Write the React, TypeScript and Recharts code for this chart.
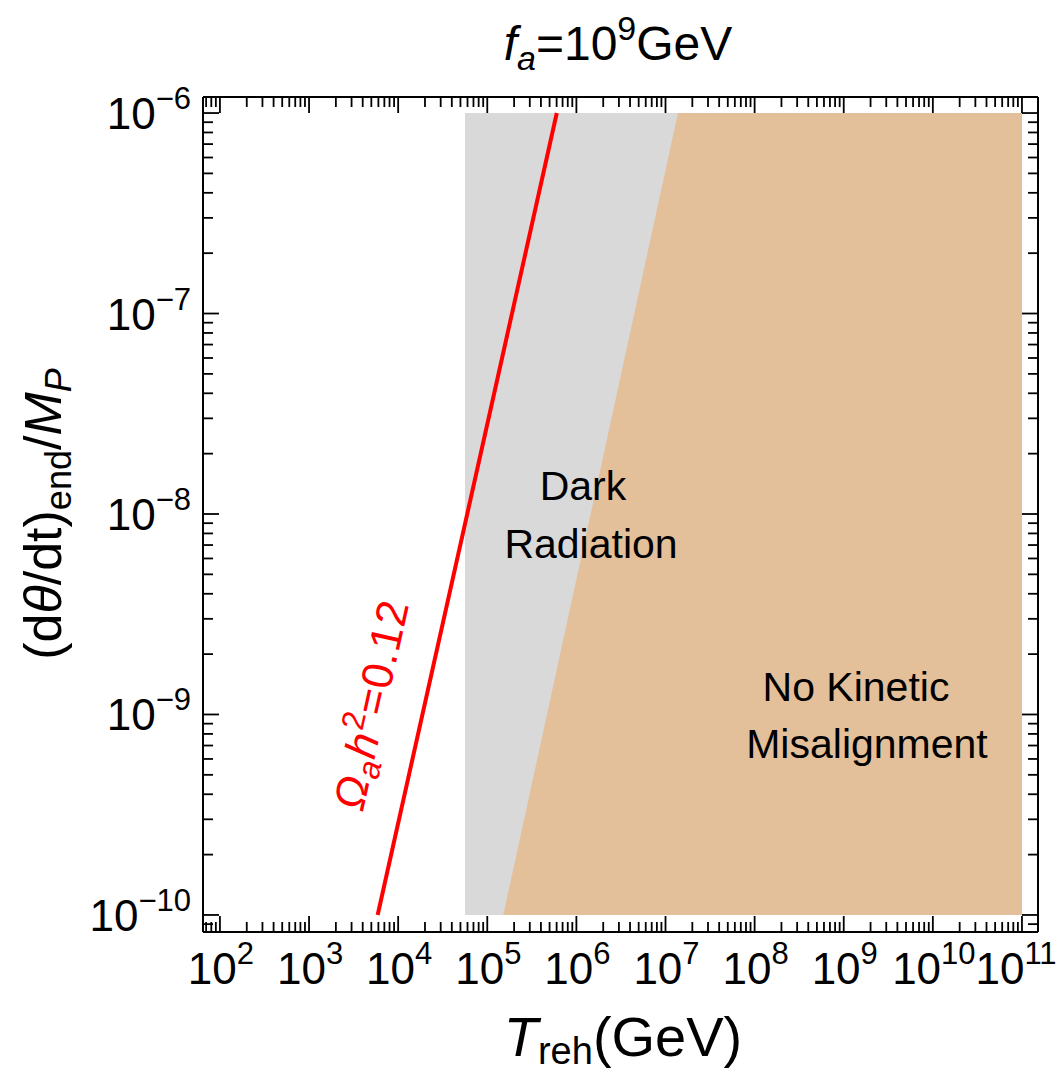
import { ComposedChart, XAxis, YAxis, Area, Line } from "recharts";

// decades that carry a label
const xMajorExponents = [2, 3, 4, 5, 6, 7, 8, 9, 10, 11];
const yMajorExponents = [-10, -9, -8, -7, -6];
const minorMultipliers = [2, 3, 4, 5, 6, 7, 8, 9];

// plot range in log10 units
const xLogRange = [1.81, 11.18];
const yLogRange = [-10.085, -5.92];

// shaded regions: [lower, upper] edge at each T_reh
const darkRadiation = [
  { t: 10 ** 4.75, range: [1e-10, 1e-6] },
  { t: 1e11, range: [1e-10, 1e-6] },
];
const noKineticMisalignment = [
  { t: 10 ** 5.18, range: [1e-10, 1e-10] },
  { t: 10 ** 7.14, range: [1e-10, 1e-6] },
  { t: 1e11, range: [1e-10, 1e-6] },
];
// Omega_a h^2 = 0.12 contour
const relicLine = [
  { t: 10 ** 3.77, v: 1e-10 },
  { t: 10 ** 5.78, v: 1e-6 },
];

const W = 1061;
const H = 1072;
const FONT = "'Liberation Sans', Arial, Helvetica, sans-serif";
const GRAY = "#d9d9d9";
const TAN = "#e3bf9a";

const xDomain = [10 ** xLogRange[0], 10 ** xLogRange[1]];
const yDomain = [10 ** yLogRange[0], 10 ** yLogRange[1]];

function buildTicks(majors: number[], domain: number[]) {
  const out: number[] = [];
  [majors[0] - 1, ...majors].forEach((e) => {
    out.push(10 ** e);
    minorMultipliers.forEach((m) => out.push(m * 10 ** e));
  });
  return out.filter((v) => v >= domain[0] && v <= domain[1]);
}
const xTicks = buildTicks(xMajorExponents, xDomain);
const yTicks = buildTicks(yMajorExponents, yDomain);

const expOf = (v: number) => Math.round(Math.log10(v));
const isMajor = (v: number) => Math.abs(Math.log10(v) - expOf(v)) < 1e-6;

const MAJOR = 16;
const MINOR = 10;
const TW = 1.8;

function BottomTick({ x, y, payload }: any) {
  const major = isMajor(payload.value);
  // keep the last label inside the page
  const tx = Math.min(x + 1, W - 45);
  return (
    <g>
      <line x1={x} y1={y} x2={x} y2={y - (major ? MAJOR : MINOR)} stroke="#000" strokeWidth={TW} />
      {major && (
        <text x={tx} y={y + 52} textAnchor="middle" fontFamily={FONT} fontSize={44} fill="#000">
          10
          <tspan dy={-20} fontSize={31}>
            {expOf(payload.value)}
          </tspan>
        </text>
      )}
    </g>
  );
}

function TopTick({ x, y, payload }: any) {
  const major = isMajor(payload.value);
  return <line x1={x} y1={y} x2={x} y2={y + (major ? MAJOR : MINOR)} stroke="#000" strokeWidth={TW} />;
}

function LeftTick({ x, y, payload }: any) {
  const major = isMajor(payload.value);
  return (
    <g>
      <line x1={x} y1={y} x2={x + (major ? MAJOR : MINOR)} y2={y} stroke="#000" strokeWidth={TW} />
      {major && (
        <text x={x - 12} y={y + 16} textAnchor="end" fontFamily={FONT} fontSize={44} fill="#000">
          10
          <tspan dy={-20} fontSize={31}>
            {"\u2212" + Math.abs(expOf(payload.value))}
          </tspan>
        </text>
      )}
    </g>
  );
}

function RightTick({ x, y, payload }: any) {
  const major = isMajor(payload.value);
  return <line x1={x} y1={y} x2={x - (major ? MAJOR : MINOR)} y2={y} stroke="#000" strokeWidth={TW} />;
}

const axisLine = { stroke: "#000", strokeWidth: 2 };

export default function App() {
  return (
    <div style={{ position: "absolute", left: 0, top: 0, width: W, height: H, background: "#fff" }}>
      <ComposedChart width={W} height={H} margin={{ top: 87, right: 13, bottom: 60, left: 103 }}>
        <XAxis
          xAxisId="b"
          dataKey="t"
          type="number"
          scale="log"
          domain={xDomain}
          allowDataOverflow
          ticks={xTicks}
          interval={0}
          tickSize={0}
          tickMargin={0}
          tickLine={false}
          axisLine={axisLine}
          tick={(p: any) => <BottomTick {...p} />}
          height={80}
        />
        <XAxis
          xAxisId="t"
          orientation="top"
          dataKey="t"
          type="number"
          scale="log"
          domain={xDomain}
          allowDataOverflow
          ticks={xTicks}
          interval={0}
          tickSize={0}
          tickMargin={0}
          tickLine={false}
          axisLine={axisLine}
          tick={(p: any) => <TopTick {...p} />}
          height={10}
        />
        <YAxis
          yAxisId="l"
          type="number"
          scale="log"
          domain={yDomain}
          allowDataOverflow
          ticks={yTicks}
          interval={0}
          tickSize={0}
          tickMargin={0}
          tickLine={false}
          axisLine={axisLine}
          tick={(p: any) => <LeftTick {...p} />}
          width={100}
        />
        <YAxis
          yAxisId="r"
          orientation="right"
          type="number"
          scale="log"
          domain={yDomain}
          allowDataOverflow
          ticks={yTicks}
          interval={0}
          tickSize={0}
          tickMargin={0}
          tickLine={false}
          axisLine={axisLine}
          tick={(p: any) => <RightTick {...p} />}
          width={10}
        />
        <Area
          xAxisId="b"
          yAxisId="l"
          data={darkRadiation}
          dataKey="range"
          type="linear"
          stroke="none"
          fill={GRAY}
          fillOpacity={1}
          isAnimationActive={false}
        />
        <Area
          xAxisId="b"
          yAxisId="l"
          data={noKineticMisalignment}
          dataKey="range"
          type="linear"
          stroke="none"
          fill={TAN}
          fillOpacity={1}
          isAnimationActive={false}
        />
        <Line
          xAxisId="b"
          yAxisId="l"
          data={relicLine}
          dataKey="v"
          type="linear"
          stroke="#ff0000"
          strokeWidth={4}
          dot={false}
          isAnimationActive={false}
        />
      </ComposedChart>

      <svg
        width={W}
        height={H}
        style={{ position: "absolute", left: 0, top: 0, pointerEvents: "none" }}
        fontFamily={FONT}
      >
        {/* title */}
        <text x={618} y={60} textAnchor="middle" fontSize={48} fill="#000">
          <tspan fontStyle="italic">f</tspan>
          <tspan fontStyle="italic" fontSize={34} dy={10}>
            a
          </tspan>
          <tspan dy={-10}>=10</tspan>
          <tspan fontSize={34} dy={-20}>
            9
          </tspan>
          <tspan dy={20}>GeV</tspan>
        </text>

        {/* x label */}
        <text x={623} y={1056} textAnchor="middle" fontSize={56} fill="#000">
          <tspan fontStyle="italic">T</tspan>
          <tspan fontSize={38} dy={8}>
            reh
          </tspan>
          <tspan dy={-8}>(GeV)</tspan>
        </text>

        {/* y label */}
        <text transform="translate(61,514) rotate(-90)" textAnchor="middle" fontSize={52} fill="#000">
          (d<tspan fontStyle="italic">θ</tspan>/dt)
          <tspan fontSize={36} dy={10}>
            end
          </tspan>
          <tspan dy={-10}>/</tspan>
          <tspan fontStyle="italic">M</tspan>
          <tspan fontStyle="italic" fontSize={36} dy={10}>
            P
          </tspan>
        </text>

        {/* region labels */}
        <text x={583} y={500} textAnchor="middle" fontSize={41} fill="#000">
          Dark
        </text>
        <text x={591} y={558} textAnchor="middle" fontSize={41} fill="#000">
          Radiation
        </text>
        <text x={856} y={701} textAnchor="middle" fontSize={41} fill="#000">
          No Kinetic
        </text>
        <text x={867} y={758} textAnchor="middle" fontSize={41} fill="#000">
          Misalignment
        </text>

        {/* contour label */}
        <text
          transform="translate(386,708) rotate(-77.4)"
          textAnchor="middle"
          fontSize={44}
          letterSpacing={1}
          fill="#ff0000"
        >
          <tspan fontStyle="italic">Ω</tspan>
          <tspan fontStyle="italic" fontSize={32} dy={8}>
            a
          </tspan>
          <tspan fontStyle="italic" dy={-8}>
            h
          </tspan>
          <tspan fontSize={32} dy={-18}>
            2
          </tspan>
          <tspan dy={18}>=0.12</tspan>
        </text>
      </svg>
    </div>
  );
}
